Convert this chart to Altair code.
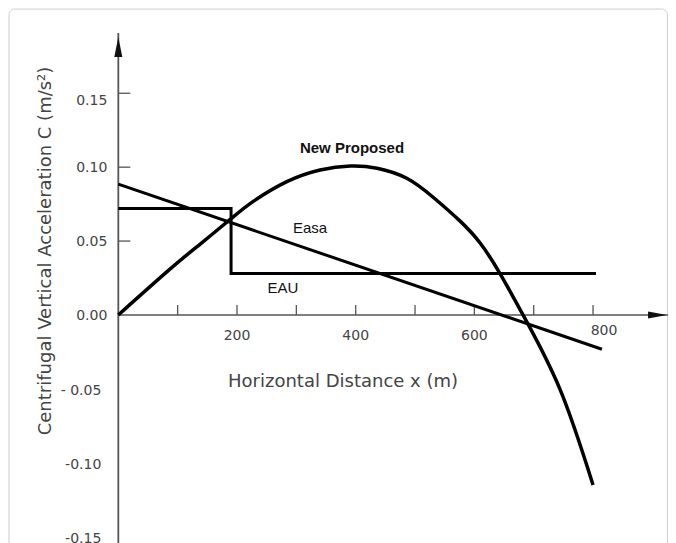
import altair as alt
import pandas as pd

# ---------------- data ----------------
# New Proposed curve: horizontal distance x (m) -> C (m/s^2)
NEW_X = [0, 87, 138, 188, 228, 284, 340, 391, 436, 486, 531, 576, 610, 643, 682, 744, 800]
NEW_Y = [0.0, 0.031, 0.048, 0.0645, 0.077, 0.0902, 0.0981, 0.1008, 0.0993, 0.0925,
         0.0795, 0.0635, 0.0485, 0.0282, 0.0, -0.050, -0.115]

# Easa straight line
EASA_X = [0, 815]
EASA_Y = [0.0885, -0.0232]

# EAU step
EAU_X = [0, 190, 190, 805]
EAU_Y = [0.072, 0.072, 0.028, 0.028]

# axis ticks / labels
X_TICKS = [100, 200, 300, 400, 500, 600, 700, 800]
X_LABEL_VALUES = [200, 400, 600]
X_LABEL_TEXT = ["200", "400", "600"]
X_LAST_VALUE = [800]
X_LAST_TEXT = ["800"]
Y_TICKS = [0.05, 0.10, 0.15]
Y_POS_VALUES = [0.10, 0.05, 0.00]
Y_POS_TEXT = ["0.10", "0.05", "0.00"]
Y_TOP_VALUE = [0.15]
Y_TOP_TEXT = ["0.15"]
Y_NEG_VALUES = [-0.05, -0.10, -0.15]
Y_NEG_TEXT = ["- 0.05", "-0.10", "-0.15"]

SERIES_BOLD = ["New Proposed"]
SERIES_PLAIN = ["Easa", "EAU"]
X_TITLE = "Horizontal Distance x (m)"
Y_TITLE = "Centrifugal Vertical Acceleration C (m/s²)"

# ---------------- scales ----------------
XMIN, XMAX = -185.9, 926.3
YMIN, YMAX = -0.1543, 0.2077
xs = alt.Scale(domain=[XMIN, XMAX], nice=False, zero=False)
ys = alt.Scale(domain=[YMIN, YMAX], nice=False, zero=False)

AXIS_COLOR = "#555555"
TEXT_COLOR = "#444444"
FONT = "DejaVu Sans"

new_df = pd.DataFrame({"x": NEW_X, "y": NEW_Y})
easa_df = pd.DataFrame({"x": EASA_X, "y": EASA_Y})
eau_df = pd.DataFrame({"x": EAU_X, "y": EAU_Y, "o": list(range(len(EAU_X)))})


def X(f="x"):
    return alt.X(f"{f}:Q", scale=xs, axis=None)


def Y(f="y"):
    return alt.Y(f"{f}:Q", scale=ys, axis=None)


# frame (light rounded border around the figure, bottom edge cut off)
frame_df = pd.DataFrame({"x": [XMIN + 1.7], "x2": [XMAX - 0.9],
                         "y": [YMAX - 0.0007], "y2": [YMIN - 0.05]})
frame = alt.Chart(frame_df).mark_rect(
    fillOpacity=0, stroke="#cfcfcf", strokeWidth=1, cornerRadius=6
).encode(x=X(), x2="x2:Q", y=Y(), y2="y2:Q")

# axes lines
x_axis = alt.Chart(pd.DataFrame({"x": [0], "x2": [XMAX], "y": [0]})).mark_rule(
    color=AXIS_COLOR, strokeWidth=1.4
).encode(x=X(), x2="x2:Q", y=Y())
y_axis = alt.Chart(pd.DataFrame({"x": [0], "y": [YMIN], "y2": [0.1908]})).mark_rule(
    color=AXIS_COLOR, strokeWidth=1.8
).encode(x=X(), y=Y(), y2="y2:Q")

# arrowheads
x_arrow = alt.Chart(pd.DataFrame({"x": [908.7], "y": [0]})).mark_point(
    shape="M 1 0 L -1 -0.37 L -1 0.37 Z", size=361, filled=True, color="#111111", opacity=1
).encode(x=X(), y=Y())
y_arrow = alt.Chart(pd.DataFrame({"x": [0], "y": [0.1813]})).mark_point(
    shape="M 0 -1 L 0.4 1 L -0.4 1 Z", size=400, filled=True, color="#111111", opacity=1
).encode(x=X(), y=Y())

# ticks
x_ticks = alt.Chart(pd.DataFrame({"x": X_TICKS, "y": [0] * len(X_TICKS)})).mark_tick(
    orient="vertical", size=10, thickness=1.3, yOffset=-5, color=AXIS_COLOR, opacity=1
).encode(x=X(), y=Y())
y_ticks = alt.Chart(pd.DataFrame({"x": [0] * len(Y_TICKS), "y": Y_TICKS})).mark_tick(
    orient="horizontal", size=12, thickness=1.3, xOffset=6, color=AXIS_COLOR, opacity=1
).encode(x=X(), y=Y())

# tick labels
lab_kw = dict(font=FONT, fontSize=14, color=TEXT_COLOR, baseline="middle")


def lbl_df(xv, yv, t):
    return pd.DataFrame({"x": xv, "y": yv, "t": t})


x_labels = alt.Chart(lbl_df(X_LABEL_VALUES, [0] * 3, X_LABEL_TEXT)).mark_text(
    dy=21, **lab_kw
).encode(x=X(), y=Y(), text="t:N")
x_last = alt.Chart(lbl_df(X_LAST_VALUE, [0], X_LAST_TEXT)).mark_text(
    dx=11, dy=16, **lab_kw
).encode(x=X(), y=Y(), text="t:N")
y_pos = alt.Chart(lbl_df([0] * 3, Y_POS_VALUES, Y_POS_TEXT)).mark_text(
    align="right", dx=-11, dy=1, **lab_kw
).encode(x=X(), y=Y(), text="t:N")
y_top = alt.Chart(lbl_df([0], Y_TOP_VALUE, Y_TOP_TEXT)).mark_text(
    align="right", dx=-11, dy=8, **lab_kw
).encode(x=X(), y=Y(), text="t:N")
y_neg = alt.Chart(lbl_df([0] * 3, Y_NEG_VALUES, Y_NEG_TEXT)).mark_text(
    align="right", dx=-17, dy=2, **lab_kw
).encode(x=X(), y=Y(), text="t:N")

# axis titles
title_kw = dict(font=FONT, fontSize=18, color=TEXT_COLOR, baseline="middle", align="center")
x_title = alt.Chart(lbl_df([378.7], [-0.0453], [X_TITLE])).mark_text(
    **title_kw
).encode(x=X(), y=Y(), text="t:N")
y_title = alt.Chart(lbl_df([-121.8], [0.0433], [Y_TITLE])).mark_text(
    angle=270, **title_kw
).encode(x=X(), y=Y(), text="t:N")

# series lines
new_line = alt.Chart(new_df).mark_line(
    color="#000000", strokeWidth=3.5, interpolate="natural"
).encode(x=X(), y=Y())
easa_line = alt.Chart(easa_df).mark_line(color="#000000", strokeWidth=3).encode(x=X(), y=Y())
eau_line = alt.Chart(eau_df).mark_line(color="#000000", strokeWidth=3).encode(
    x=X(), y=Y(), order="o:Q"
)

# series labels
ser_kw = dict(font="Liberation Sans", fontSize=15, color="#111111", baseline="middle", align="center")
label_bold = alt.Chart(lbl_df([393.8], [0.113], SERIES_BOLD)).mark_text(
    fontWeight="bold", **ser_kw
).encode(x=X(), y=Y(), text="t:N")
label_plain = alt.Chart(lbl_df([323.0, 277.5], [0.0589, 0.0183], SERIES_PLAIN)).mark_text(
    **ser_kw
).encode(x=X(), y=Y(), text="t:N")

chart = alt.layer(
    frame, x_axis, y_axis, x_ticks, y_ticks, x_arrow, y_arrow,
    x_labels, x_last, y_pos, y_top, y_neg, x_title, y_title,
    eau_line, easa_line, new_line, label_bold, label_plain,
).properties(
    width=660, height=535, padding=0, background="white",
    autosize=alt.AutoSizeParams(type="none"),
).configure_view(stroke=None)

chart.save("out.html", embed_options={"renderer": "svg", "actions": False})
